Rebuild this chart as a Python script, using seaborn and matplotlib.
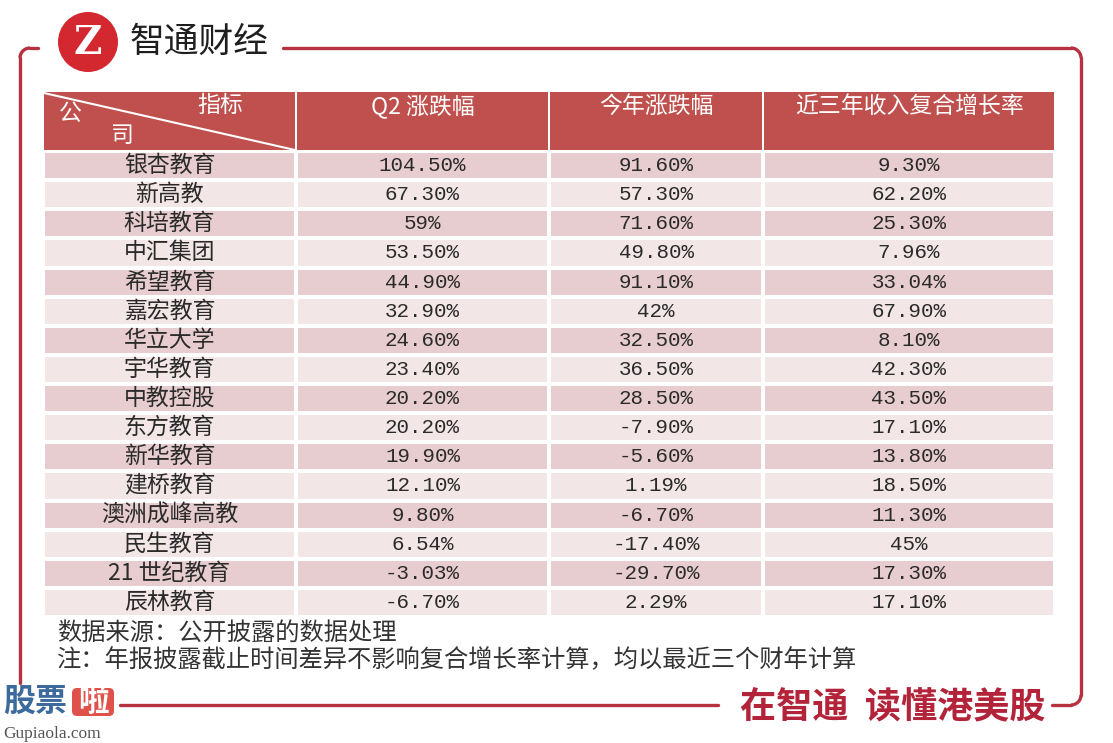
import numpy as np
import matplotlib
matplotlib.use("Agg")
import matplotlib.pyplot as plt
import seaborn as sns
from matplotlib.colors import ListedColormap
from matplotlib.patches import Rectangle, Circle, Arc, FancyBboxPatch

sns.set_style("white")
plt.rcParams['font.family'] = ['Noto Sans CJK SC', 'DejaVu Sans']

# 数据
companies = ["银杏教育", "新高教", "科培教育", "中汇集团", "希望教育", "嘉宏教育", "华立大学", "宇华教育",
             "中教控股", "东方教育", "新华教育", "建桥教育", "澳洲成峰高教", "民生教育", "21 世纪教育", "辰林教育"]
q2_change = ["104.50%", "67.30%", "59%", "53.50%", "44.90%", "32.90%", "24.60%", "23.40%",
             "20.20%", "20.20%", "19.90%", "12.10%", "9.80%", "6.54%", "-3.03%", "-6.70%"]
ytd_change = ["91.60%", "57.30%", "71.60%", "49.80%", "91.10%", "42%", "32.50%", "36.50%",
              "28.50%", "-7.90%", "-5.60%", "1.19%", "-6.70%", "-17.40%", "-29.70%", "2.29%"]
cagr_3y = ["9.30%", "62.20%", "25.30%", "7.96%", "33.04%", "67.90%", "8.10%", "42.30%",
           "43.50%", "17.10%", "13.80%", "18.50%", "11.30%", "45%", "17.30%", "17.10%"]
headers = ["Q2 涨跌幅", "今年涨跌幅", "近三年收入复合增长率"]
notes = ["数据来源：公开披露的数据处理",
         "注：年报披露截止时间差异不影响复合增长率计算，均以最近三个财年计算"]

W, H = 1113, 743
red = "#C0504D"
frame = "#B73240"
band_dark = "#E7CDCF"
band_light = "#F3E6E7"

fig = plt.figure(figsize=(W / 100, H / 100), dpi=100)
bg = fig.add_axes([0, 0, 1, 1])
bg.set_xlim(0, W)
bg.set_ylim(H, 0)
bg.axis("off")

# 表格位置（像素）
col_edges = [43, 296, 549, 763, 1055]
head_top, head_bot = 92, 150
body_top, body_bot = 151, 617

# 表体：每一列用一个 heatmap 画斑马纹
band = np.array([[i % 2] for i in range(len(companies))])
cmap = ListedColormap([band_dark, band_light])
columns = [companies, q2_change, ytd_change, cagr_3y]
for j, col in enumerate(columns):
    x0, x1 = col_edges[j], col_edges[j + 1]
    ax = fig.add_axes([x0 / W, 1 - body_bot / H, (x1 - x0) / W, (body_bot - body_top) / H])
    if j == 0:
        kws = dict(fontsize=16.5, color="#2A2A2A", family=['Noto Sans CJK SC', 'DejaVu Sans'])
    else:
        kws = dict(fontsize=15, color="#2A2A2A", family=['Liberation Mono', 'Noto Sans CJK SC'])
    sns.heatmap(band, cmap=cmap, vmin=0, vmax=1, cbar=False,
                annot=np.array(col).reshape(-1, 1), fmt="", annot_kws=kws,
                linewidths=1.5, linecolor="white",
                xticklabels=False, yticklabels=False, ax=ax)

# 表头
for j in range(4):
    x0, x1 = col_edges[j], col_edges[j + 1]
    bg.add_patch(Rectangle((x0 + 0.75, head_top), x1 - x0 - 1.5, head_bot - head_top,
                           facecolor=red, edgecolor="none"))
    if j > 0:
        bg.text((x0 + x1) / 2, 106, headers[j - 1], color="white", fontsize=16.5,
                ha="center", va="center")
bg.plot([44, 295], [93, 150], color="white", lw=1.5)
bg.text(220, 105, "指标", color="white", fontsize=16.5, ha="center", va="center")
bg.text(70, 113, "公", color="white", fontsize=16.5, ha="center", va="center")
bg.text(122, 135, "司", color="white", fontsize=16.5, ha="center", va="center")

# 注释
bg.text(57, 633, notes[0], fontsize=17.5, color="#333333", va="center")
bg.text(57, 660, notes[1], fontsize=17.5, color="#333333", va="center")

# 外框
r = 10
lw = 2.4
bg.plot([30, 38], [48, 48], color=frame, lw=lw, solid_capstyle="round")
bg.add_patch(Arc((30, 58), 2 * r, 2 * r, theta1=180, theta2=270, color=frame, lw=lw))
bg.plot([20, 20], [58, 683], color=frame, lw=lw)
bg.plot([283, 1071], [48, 48], color=frame, lw=lw)
bg.add_patch(Arc((1071, 58), 2 * r, 2 * r, theta1=270, theta2=360, color=frame, lw=lw))
bg.plot([1081, 1081], [58, 695], color=frame, lw=lw)
bg.add_patch(Arc((1071, 695), 2 * r, 2 * r, theta1=0, theta2=90, color=frame, lw=lw))
bg.plot([1052, 1071], [705, 705], color=frame, lw=lw)
bg.plot([120, 718], [705, 705], color=frame, lw=lw)

# 标志
bg.add_patch(Circle((88, 42), 30, facecolor="#D3282F", edgecolor="none"))
bg.text(88, 43, "Z", color="white", fontsize=28, fontweight="bold", ha="center", va="center",
        family=['DejaVu Serif'])
bg.text(130, 42, "智通财经", fontsize=25, color="#1E1E1E", va="center")

# 底部
bg.text(1046, 707, "在智通  读懂港美股", fontsize=26, color="#B3243A", fontweight="heavy",
        ha="right", va="center")
bg.text(3, 702, "股票", fontsize=23, color="#3D6A9C", fontweight="heavy", va="center")
bg.add_patch(FancyBboxPatch((72, 688), 42, 28, boxstyle="round,pad=0,rounding_size=5",
                            facecolor="#E0514A", edgecolor="none"))
bg.text(93, 702, "啦", fontsize=22, color="white", fontweight="heavy", ha="center", va="center")
bg.text(3, 734, "Gupiaola.com", fontsize=12.5, color="#555555", va="center",
        family=['Liberation Serif'])

fig.savefig("out.png", dpi=100)
